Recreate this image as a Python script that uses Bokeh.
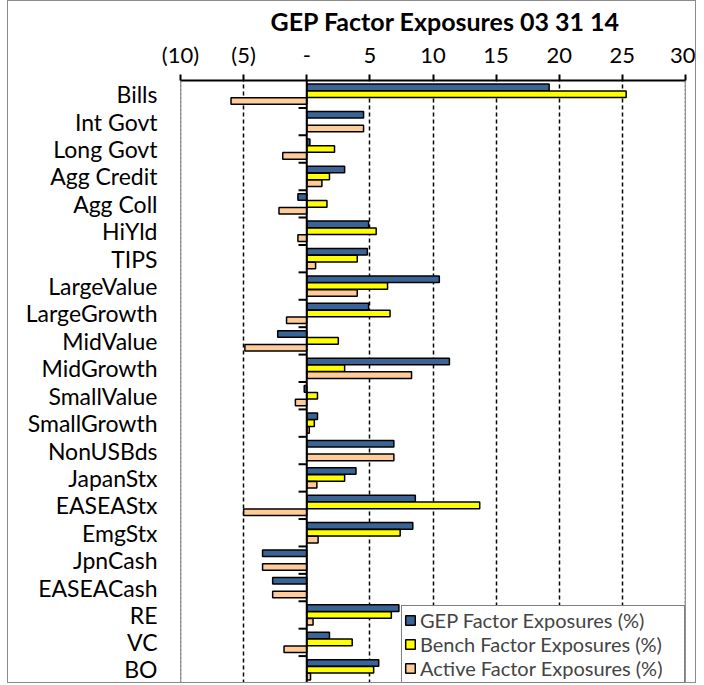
from bokeh.plotting import figure
from bokeh.models import ColumnDataSource, FactorRange, FixedTicker, Span, Legend, LegendItem, Range1d
from bokeh.transform import dodge
from bokeh.embed import file_html
from bokeh.resources import INLINE

categories = ["Bills", "Int Govt", "Long Govt", "Agg Credit", "Agg Coll", "HiYld", "TIPS",
              "LargeValue", "LargeGrowth", "MidValue", "MidGrowth", "SmallValue", "SmallGrowth",
              "NonUSBds", "JapanStx", "EASEAStx", "EmgStx", "JpnCash", "EASEACash", "RE", "VC", "BO"]
gep = [19.2, 4.5, 0.25, 3.0, -0.7, 4.9, 4.8, 10.5, 4.9, -2.3, 11.3, -0.2, 0.85,
       6.9, 3.9, 8.6, 8.4, -3.5, -2.7, 7.3, 1.8, 5.7]
bench = [25.3, 0.0, 2.2, 1.8, 1.6, 5.5, 4.0, 6.4, 6.6, 2.5, 3.0, 0.85, 0.6,
         0.0, 3.0, 13.7, 7.4, 0.0, 0.0, 6.7, 3.6, 5.3]
active = [-6.0, 4.5, -1.9, 1.2, -2.2, -0.7, 0.7, 4.0, -1.6, -4.9, 8.3, -0.9, 0.2,
          6.9, 0.8, -5.0, 0.9, -3.5, -2.7, 0.5, -1.8, 0.3]
series_names = ["GEP Factor Exposures (%)", "Bench Factor Exposures (%)", "Active Factor Exposures (%)"]
ticks = [-10, -5, 0, 5, 10, 15, 20, 25, 30]
tick_labels = ["(10)", "(5)", "-", "5", "10", "15", "20", "25", "30"]
title_text = "GEP Factor Exposures 03 31 14"

FONT = "Lato"
colors = ["#3A6496", "#FFFF00", "#FFCC99"]

src = ColumnDataSource(dict(cat=categories, gep=gep, bench=bench, active=active))

p = figure(width=689, height=683,
           y_range=FactorRange(factors=list(reversed(categories))),
           x_range=Range1d(ticks[0], ticks[-1]),
           x_axis_location="above",
           output_backend="svg", toolbar_location=None,
           min_border_left=172, min_border_right=12, min_border_top=70, min_border_bottom=1)
p.margin = (0, 0, 0, 7)
p.styles = {"border": "1px solid #8c8c8c"}

p.title.text = title_text
p.title.align = "left"
p.title.offset = 90
p.title.standoff = 4
p.title.text_font = FONT
p.title.text_font_size = "25px"
p.title.text_font_style = "bold"
p.title.text_color = "black"

# grid
p.ygrid.grid_line_color = None
p.xgrid.ticker = FixedTicker(ticks=[t for t in ticks if t not in (0, ticks[0], ticks[-1])])
p.xgrid.grid_line_color = "black"
p.xgrid.grid_line_dash = "4 3"
p.xgrid.grid_line_width = 1.5
p.outline_line_color = "#a0a0a0"
for loc in (ticks[0], ticks[-1]):
    p.add_layout(Span(location=loc, dimension="height", line_color="#808080",
                      line_width=2, line_dash="3 1"))

keys = ["gep", "bench", "active"]
offsets = [0.25, 0.0, -0.25]
renderers = []
for k, off, c in zip(keys, offsets, colors):
    r = p.hbar(y=dodge("cat", off, range=p.y_range), left=0, right=k, height=0.24,
               source=src, fill_color=c, line_color="black", line_width=1.5)
    renderers.append(r)

# zero line and category boundary ticks
p.add_layout(Span(location=0, dimension="height", line_color="black", line_width=2))
p.segment(x0=-0.65, x1=0, y0=dodge("cat", -0.5, range=p.y_range),
          y1=dodge("cat", -0.5, range=p.y_range), source=src,
          line_color="black", line_width=2)

# x axis (top)
ax = p.xaxis[0]
ax.ticker = FixedTicker(ticks=ticks)
ax.major_label_overrides = {t: l for t, l in zip(ticks, tick_labels)}
ax.axis_line_width = 2
ax.axis_line_color = "black"
ax.major_tick_out = 6
ax.major_tick_in = 0
ax.major_tick_line_width = 2
ax.minor_tick_line_color = None
ax.major_label_text_font = FONT
ax.major_label_text_font_size = "22px"
ax.major_label_text_color = "black"
ax.major_label_standoff = 7

ay = p.yaxis[0]
ay.axis_line_color = None
ay.major_tick_line_color = None
ay.major_tick_out = 0
ay.major_tick_in = 0
ay.minor_tick_line_color = None
ay.major_label_text_font = FONT
ay.major_label_text_font_size = "23px"
ay.major_label_text_color = "black"
ay.major_label_standoff = 23

legend = Legend(items=[LegendItem(label=n, renderers=[r]) for n, r in zip(series_names, renderers)],
                location="bottom_right", margin=0, padding=2, spacing=0,
                glyph_width=12, glyph_height=12, label_standoff=4, label_height=19,
                label_width=262,
                border_line_color="black", border_line_width=1.5,
                background_fill_color="white", background_fill_alpha=1.0,
                label_text_font=FONT, label_text_font_size="20px")
p.add_layout(legend)

open("out.html", "w").write(file_html(p, INLINE))
